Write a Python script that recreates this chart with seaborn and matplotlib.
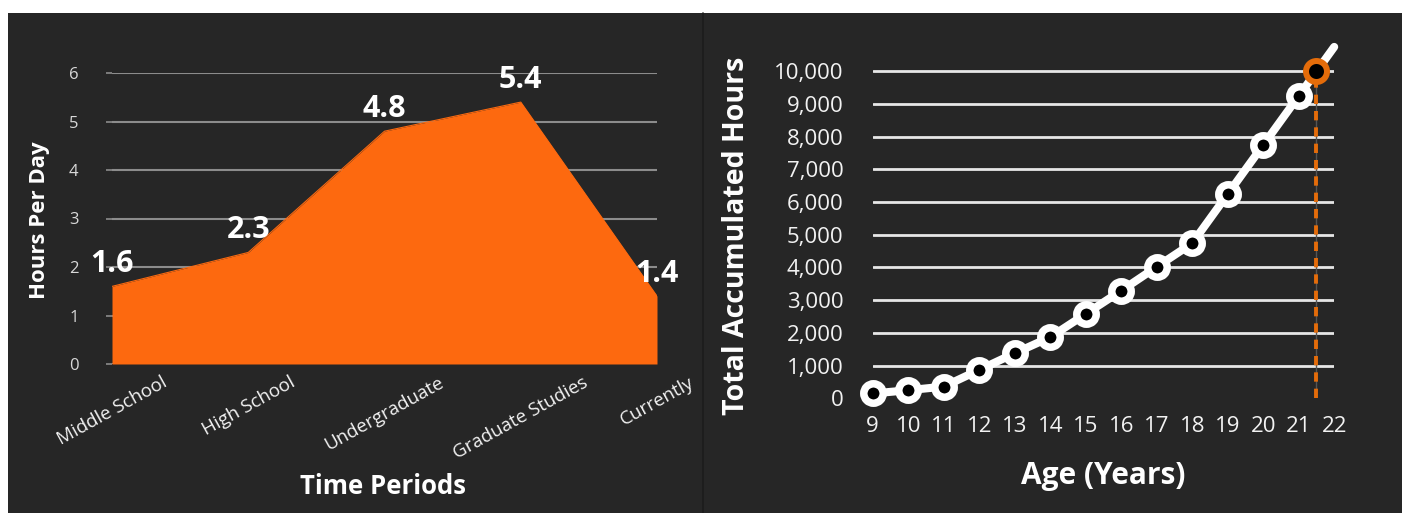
# ============================================================================
# LIBRARY IMPORTS
# ============================================================================
import numpy as np
import pandas as pd
import matplotlib.pyplot as plt
from matplotlib.patches import Rectangle
from matplotlib.lines import Line2D
import seaborn as sns

# ============================================================================
# DATA
# ============================================================================
# Left chart: hours per day by time period
periods = ["Middle School", "High School", "Undergraduate", "Graduate Studies", "Currently"]
hours_per_day = [1.6, 2.3, 4.8, 5.4, 1.4]

# Right chart: accumulated hours by age
ages = [9, 10, 11, 12, 13, 14, 15, 16, 17, 18, 19, 20, 21, 22]
total_hours = [150, 250, 360, 870, 1380, 1870, 2580, 3290, 4020, 4740, 6240, 7740, 9240, 10740]
marker_ages = ages[:-1]
marker_hours = total_hours[:-1]

# 10,000 hour milestone
milestone_age = [21.5]
milestone_hours = [10000]

y_ticks_left = [0, 1, 2, 3, 4, 5, 6]
y_ticks_right = [0, 1000, 2000, 3000, 4000, 5000, 6000, 7000, 8000, 9000, 10000]

# ============================================================================
# STYLING
# ============================================================================
sns.set_theme(style="dark")
plt.rcParams['font.family'] = ['Open Sans', 'DejaVu Sans']

BG = '#262626'
ORANGE_FILL = '#fd690f'
ORANGE = '#e46c0a'
W, H = 1407, 513

fig = plt.figure(figsize=(W / 100, H / 100), dpi=100, facecolor='white')

# dark panel behind both charts
fig.patches.append(Rectangle((8 / W, 0), (1402 - 8) / W, 1 - 13 / H,
                             transform=fig.transFigure, facecolor=BG,
                             edgecolor='none', zorder=-2))
fig.lines.append(Line2D([703 / W, 703 / W], [0, 1 - 13 / H], transform=fig.transFigure,
                        color='#1c1c1c', linewidth=1.2, zorder=-1))

# ============================================================================
# LEFT CHART: AREA
# ============================================================================
ax1 = fig.add_axes([112 / W, 1 - 364 / H, 545 / W, (364 - 73) / H])
ax1.set_facecolor('none')

df_left = pd.DataFrame({'period': periods, 'pos': np.arange(len(periods)), 'hours': hours_per_day})

sns.lineplot(data=df_left, x='pos', y='hours', ax=ax1, color=ORANGE_FILL,
             linewidth=0.8, zorder=3)
ax1.fill_between(df_left['pos'], df_left['hours'], 0, color=ORANGE_FILL,
                 linewidth=0, zorder=3)

for x, y in zip(df_left['pos'], df_left['hours']):
    ax1.annotate(f'{y:.1f}', (x, y), xytext=(0, 14), textcoords='offset pixels',
                 ha='center', va='baseline', fontsize=22, fontweight='bold',
                 color='white', zorder=5, annotation_clip=False)

ax1.set_xlim(0, len(periods) - 1)
ax1.set_ylim(0, 6)
ax1.set_yticks(y_ticks_left)
ax1.set_xticks(df_left['pos'])
ax1.set_xticklabels(periods, rotation=29, ha='center', va='top')
ax1.tick_params(axis='x', length=0, pad=7, labelsize=13.5, labelcolor='#f2f2f2')
ax1.tick_params(axis='y', length=4, width=1.2, color='#8c8c8c', pad=20,
                labelsize=12, labelcolor='#d9d9d9', left=True)
ax1.grid(axis='y', color='#8c8c8c', linewidth=1.5, zorder=1)
ax1.grid(axis='x', visible=False)
ax1.set_axisbelow(True)
for s in ax1.spines.values():
    s.set_visible(False)
ax1.set_xlabel('')
ax1.set_ylabel('')

fig.text(40 / W, 1 - 220 / H, 'Hours Per Day', rotation=90, ha='center', va='center',
         fontsize=16, fontweight='bold', color='white')
fig.text(383 / W, 1 - 487 / H, 'Time Periods', ha='center', va='center',
         fontsize=18.5, fontweight='bold', color='white')

# ============================================================================
# RIGHT CHART: ACCUMULATED HOURS
# ============================================================================
ax2 = fig.add_axes([872.7 / W, 1 - 398.4 / H, (1334.2 - 872.7) / W, (398.4 - 38.4) / H])
ax2.set_facecolor('none')

df_right = pd.DataFrame({'age': ages, 'hours': total_hours})
df_marks = pd.DataFrame({'age': marker_ages, 'hours': marker_hours})

# drop line to the milestone
ax2.vlines(milestone_age, 0, milestone_hours, color='#555555', linewidth=1, zorder=2)
ax2.vlines(milestone_age, 0, milestone_hours, color=ORANGE, linewidth=2.8,
           linestyles=(0, (2.4, 1.8)), zorder=2)

sns.lineplot(data=df_right, x='age', y='hours', ax=ax2, color='white',
             linewidth=5.8, zorder=3, clip_on=False)
sns.lineplot(data=df_marks, x='age', y='hours', ax=ax2, color='white', linewidth=0,
             marker='o', markersize=14, markeredgewidth=5.4, markeredgecolor='white',
             markerfacecolor='black', zorder=4, clip_on=False)
sns.scatterplot(x=milestone_age, y=milestone_hours, ax=ax2, s=15.1 ** 2, color='black',
                edgecolor=ORANGE, linewidth=4.3, zorder=5, clip_on=False)

ax2.set_xlim(9, 22)
ax2.set_ylim(0, 11000)
ax2.set_xticks(ages)
ax2.set_yticks(y_ticks_right)
ax2.set_yticklabels([f'{v:,}' for v in y_ticks_right])
ax2.tick_params(axis='x', length=0, pad=13, labelsize=16, labelcolor='#f2f2f2')
ax2.tick_params(axis='y', length=0, pad=21, labelsize=16, labelcolor='#f2f2f2')
ax2.grid(axis='y', color='#e6e6e6', linewidth=2, zorder=1)
ax2.grid(axis='x', visible=False)
ax2.get_ygridlines()[0].set_visible(False)
ax2.set_axisbelow(True)
for s in ax2.spines.values():
    s.set_visible(False)
ax2.set_xlabel('')
ax2.set_ylabel('')

fig.text(737 / W, 1 - 236 / H, 'Total Accumulated Hours', rotation=90, ha='center',
         va='center', fontsize=20.5, fontweight='bold', color='white')
fig.text(1103 / W, 1 - 476 / H, 'Age (Years)', ha='center', va='center',
         fontsize=21.5, fontweight='bold', color='white')

# ============================================================================
# SAVE
# ============================================================================
plt.savefig("out.png", dpi=100)
